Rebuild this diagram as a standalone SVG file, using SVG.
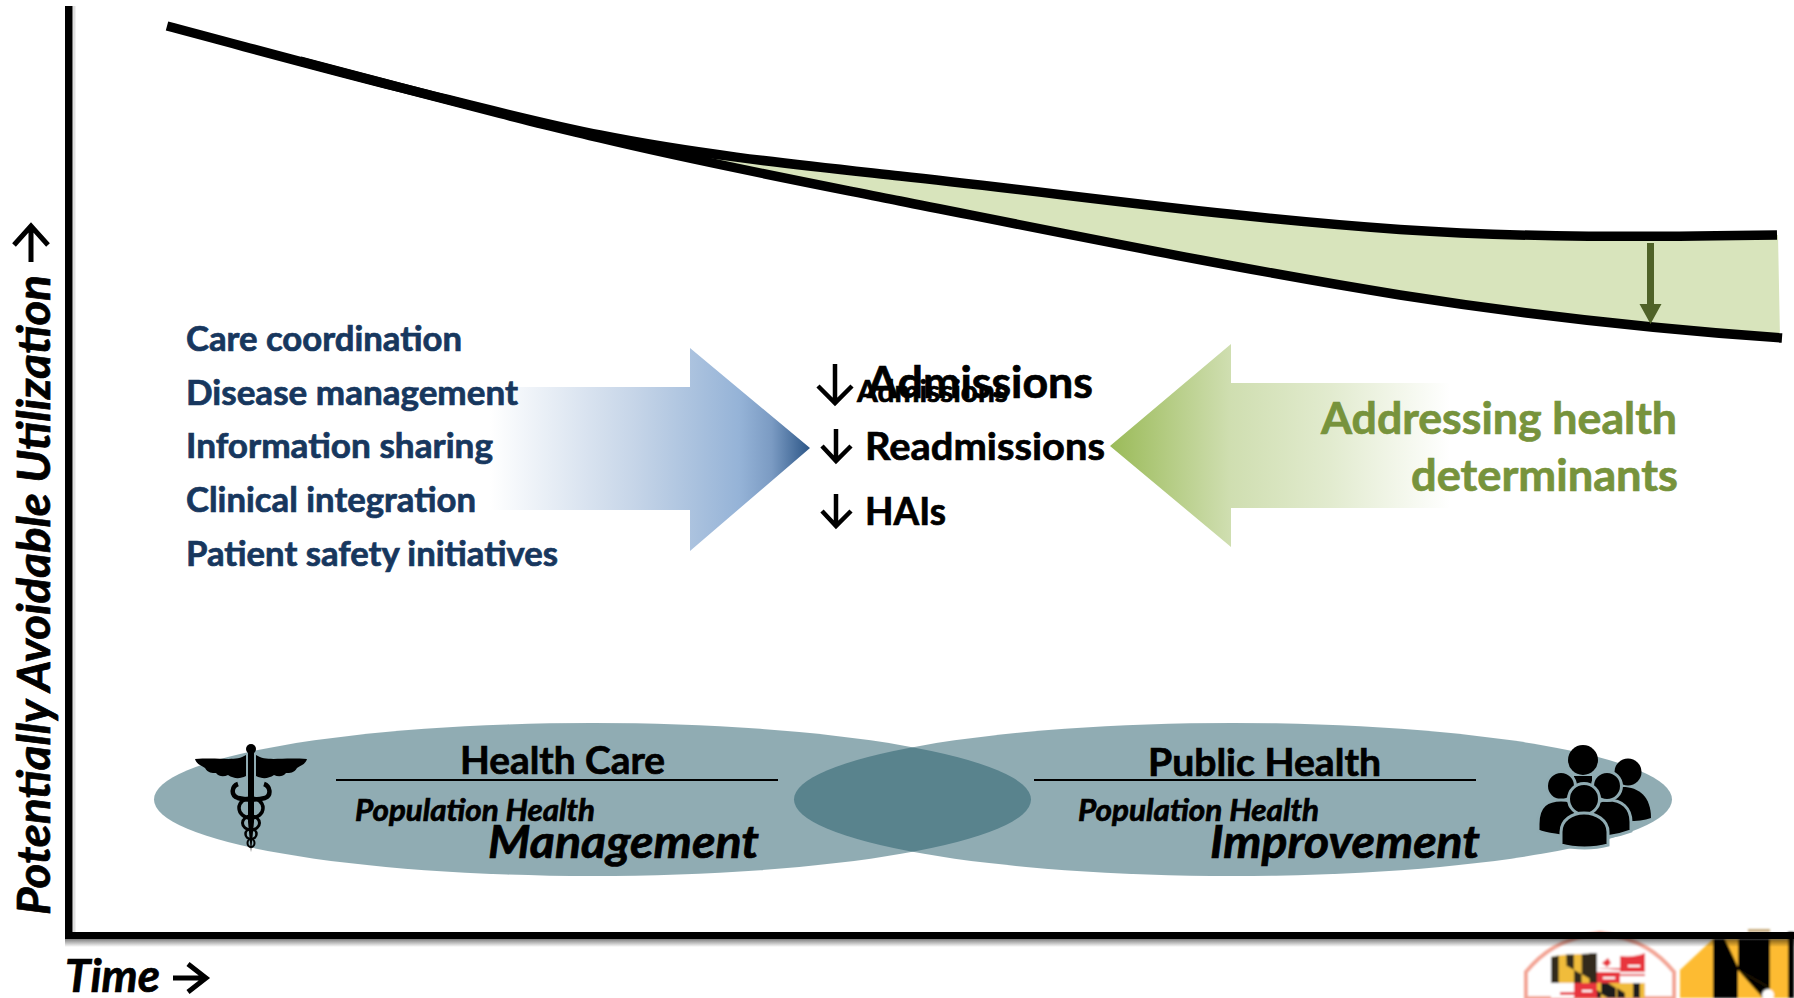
<svg xmlns="http://www.w3.org/2000/svg" width="1794" height="998" viewBox="0 0 1794 998">
<defs>
<linearGradient id="blueG" gradientUnits="userSpaceOnUse" x1="490" y1="0" x2="810" y2="0">
<stop offset="0" stop-color="#ffffff"/><stop offset="0.45" stop-color="#c6d5e8"/><stop offset="0.78" stop-color="#95b3d7"/><stop offset="0.88" stop-color="#7b9bc3"/><stop offset="1" stop-color="#2c5687"/>
</linearGradient>
<linearGradient id="greenG" gradientUnits="userSpaceOnUse" x1="1111" y1="0" x2="1450" y2="0">
<stop offset="0" stop-color="#9bbb59"/><stop offset="0.35" stop-color="#cfdeb0"/><stop offset="0.65" stop-color="#e2ebcf"/><stop offset="1" stop-color="#ffffff"/>
</linearGradient>
<linearGradient id="shadowH" x1="0" y1="0" x2="0" y2="1"><stop offset="0" stop-color="#000" stop-opacity=".5"/><stop offset="1" stop-color="#000" stop-opacity="0"/></linearGradient>
<filter id="soft" x="-5%" y="-5%" width="110%" height="110%"><feGaussianBlur stdDeviation="0.8"/></filter>
</defs>
<style>
.t{font-family:Lato,"Liberation Sans",sans-serif;font-weight:700;stroke-width:.7px;paint-order:stroke}
.navy{fill:#17375e;stroke:#17375e;font-size:33.5px}
.blk{fill:#000;stroke:#000;font-size:38.5px}
.grn{fill:#77933c;stroke:#77933c;font-size:44px}
.it{font-family:Lato,"Liberation Sans",sans-serif;font-weight:700;font-style:italic;fill:#000;stroke:#000;stroke-width:.7px}
.ell{fill:#215968;fill-opacity:.5}
.arr{fill:none;stroke:#000;stroke-width:4.5}
.curve{fill:none;stroke:#000;stroke-width:9.5}
.rule{stroke:#000;stroke-width:1.8}
</style>
<g id="wedge"><path d="M600,135 C700,155 800,165 900,176 C1067,194 1233,218 1400,229.500 C1526,238 1651,237 1778,235 L1780,338 C1655,329 1527,315 1400,295 C1233,268 1067,234 900,201 C800,181 700,162 600,138Z" fill="#d8e4bc"/></g>
<g id="logo-shield" filter="url(#soft)">
<path d="M1526,998V972C1540,955 1560,938 1600,933 1640,938 1660,955 1674,972V998Z" fill="#fff" stroke="#f3a595" stroke-width="4"/>
<g id="flag">
<path d="M1551,957C1565,953 1580,955 1597,953V983H1551Z" fill="#f0bc3a"/>
<path d="M1597,953C1612,958 1630,958 1645,953V983H1597Z" fill="#fff"/>
<rect x="1551" y="983" width="46" height="15" fill="#fff"/>
<rect x="1597" y="983" width="48" height="15" fill="#f0bc3a"/>
<path d="M1551,957L1558.700,955.500V961.300L1551,957ZM1558.700,961.300L1551,957V983H1558.700ZM1566.300,955V965.700L1574,970V954.500H1566.300ZM1574,970V983H1581.700V974.300L1574,970ZM1581.700,954V974.300L1589.300,978.700V953.500ZM1589.300,978.700V983H1597V953H1589.300Z" fill="#1c1c1c" fill-opacity=".9"/>
<path d="M1558.700,961.300H1566.300V965.700ZM1566.300,965.700V983H1574V970ZM1581.700,974.300V983H1589.300V978.700Z" fill="#f0bc3a"/>
<path d="M1601,983h7l8,5v10h-8l-7,-4zM1617,988l8,5v5h-8zM1633,983h7v15h-7zM1597,990l4,3v5h-4z" fill="#1c1c1c"/>
<path d="M1620,956C1630,957 1638,956 1645,953V972H1620ZM1597,972H1620V983H1597ZM1574,983H1597V998H1574Z" fill="#e8343c"/>
<path d="M1597,968h23v-10h3v12h-3zM1620,976h25v-2h-25zM1602,963l6,-5 3,5 -4,4zM1626,961h10v3h-10zM1560,992h14v3h-14zM1580,988h12v3h-12z" fill="#e8343c"/>
<path d="M1628,965h12v2h-12zM1603,977h12v2h-12zM1582,990h10v2h-10z" fill="#fff"/>
</g>
</g>
<g id="logo-m" filter="url(#soft)">
<path d="M1680,998V970L1713,939H1788V998Z" fill="#fdbb30"/>
<path d="M1713,939H1770V988L1738,970V998H1713Z" fill="#000"/>
<path d="M1725,939H1738V967Z" fill="#fdbb30"/>
<path d="M1738,973L1763,998H1738Z" fill="#fdbb30"/>
<path d="M1738,970L1770,988 1763,998Z" fill="#000"/>
<circle cx="1768" cy="995" r="6" fill="#fff"/>
<rect x="1788" y="932" width="6" height="66" fill="#000"/>
<rect x="1748" y="929" width="22" height="3" fill="#c8ad7f"/>
</g>
<g id="axes">
<rect x="72.500" y="6" width="3" height="926" fill="#000" fill-opacity=".12"/>
<rect x="65" y="939" width="1729" height="8" fill="url(#shadowH)"/>
<rect x="65" y="6" width="7.500" height="933" fill="#000"/>
<rect x="65" y="932" width="1729" height="7" fill="#000"/>
</g>
<g id="connectors">
<path class="curve" d="M167,26 C245,46.600 322,68 400,87.500 C467,104 533,121.700 600,135 C700,155 800,165 900,176 C1067,194 1233,218 1400,229.500 C1526,238 1651,237 1777,235"/>
<path class="curve" d="M300,61 C367,79 433,96 500,113.500 C533,122 567,130 600,138 C700,162 800,181 900,201 C1067,234 1233,268 1400,295 C1527,315 1655,329 1782,338"/>
<path d="M1647,243h7v61h7.500l-11,20 -11,-20h7.500z" fill="#4f6228"/>
</g>
<g id="arrow-care"><path d="M490,387H690V348L810,448 690,551V510H490Z" fill="url(#blueG)"/></g>
<g id="arrow-health"><path d="M1450,383H1231V344L1110,446 1231,547V508H1450Z" fill="url(#greenG)"/></g>
<g id="interventions">
<text class="t navy" x="186" y="351" textLength="276" lengthAdjust="spacingAndGlyphs">Care coordination</text>
<text class="t navy" x="186" y="405" textLength="332" lengthAdjust="spacingAndGlyphs">Disease management</text>
<text class="t navy" x="186" y="458" textLength="307" lengthAdjust="spacingAndGlyphs">Information sharing</text>
<text class="t navy" x="186" y="512" textLength="290" lengthAdjust="spacingAndGlyphs">Clinical integration</text>
<text class="t navy" x="186" y="566" textLength="372" lengthAdjust="spacingAndGlyphs">Patient safety initiatives</text>
</g>
<g id="outcomes">
<path class="arr" d="M835,364V403M818,386L835,403 852,386"/>
<path class="arr" d="M836,429V461M822,446L836,461 851,446"/>
<path class="arr" d="M836,494V526M822,511L836,526 851,511"/>
<text class="t" x="857" y="402" font-size="30" fill="#000" stroke="#000" textLength="151" lengthAdjust="spacingAndGlyphs">Admissions</text>
<text class="t blk" x="867" y="398" style="font-size:43px" textLength="226" lengthAdjust="spacingAndGlyphs">Admissions</text>
<text class="t blk" x="865" y="459.500" textLength="240" lengthAdjust="spacingAndGlyphs">Readmissions</text>
<text class="t blk" x="865" y="524.500" textLength="81" lengthAdjust="spacingAndGlyphs">HAIs</text>
</g>
<g id="determinants">
<text class="t grn" x="1321" y="433.500" textLength="356" lengthAdjust="spacingAndGlyphs">Addressing health</text>
<text class="t grn" x="1411" y="491" textLength="267" lengthAdjust="spacingAndGlyphs">determinants</text>
</g>
<g id="health-care">
<ellipse class="ell" cx="592.500" cy="799.500" rx="438.500" ry="76.500"/>
<text class="t blk" x="460" y="774" textLength="205" lengthAdjust="spacingAndGlyphs">Health Care</text>
<line class="rule" x1="336" y1="780" x2="778" y2="780"/>
<text class="it" x="355" y="820.500" font-size="30" textLength="240" lengthAdjust="spacingAndGlyphs">Population Health</text>
<text class="it" x="488" y="858" font-size="46" textLength="271" lengthAdjust="spacingAndGlyphs">Management</text>
</g>
<g id="public-health">
<ellipse class="ell" cx="1233" cy="799.500" rx="439" ry="76.500"/>
<text class="t blk" x="1148" y="775.500" textLength="233" lengthAdjust="spacingAndGlyphs">Public Health</text>
<line class="rule" x1="1034" y1="780" x2="1476" y2="780"/>
<text class="it" x="1078" y="820.500" font-size="30" textLength="241" lengthAdjust="spacingAndGlyphs">Population Health</text>
<text class="it" x="1210" y="858" font-size="46" textLength="270" lengthAdjust="spacingAndGlyphs">Improvement</text>
</g>
<g id="caduceus">
<circle cx="251" cy="749" r="5"/>
<path d="M248,752h6v70l-3,30 -3,-30z"/>
<path d="M246,755C235,762 222,757 195,759 197,765 201,765 205,768 208,773 212,773 216,773 219,777 224,777 228,775 234,779 240,779 246,776Z"/>
<path d="M256,755C267,762 280,757 307,759 305,765 301,765 297,768 294,773 290,773 286,773 283,777 278,777 274,775 268,779 262,779 256,776Z"/>
<g fill="none" stroke="#000">
<path stroke-width="4.500" d="M238,784C232,786 230,795 238,798 245,800 258,800 265,798 272,795 270,786 264,784"/>
<ellipse cx="251" cy="808" rx="12" ry="10" stroke-width="3.500"/>
<ellipse cx="251" cy="823" rx="8.500" ry="7" stroke-width="3"/>
<ellipse cx="251" cy="834" rx="5.500" ry="5" stroke-width="2.500"/>
<ellipse cx="251" cy="843" rx="3.500" ry="4" stroke-width="2"/>
</g>
</g>
<g id="people" stroke="#8fabb2" stroke-width="3">
<circle cx="1628" cy="772" r="13.500" stroke="none"/>
<path stroke="none" d="M1606,790C1630,782 1651,790 1651,818 1640,822 1625,822 1606,820Z"/>
<circle cx="1583" cy="760" r="15" stroke="none"/>
<rect x="1574" y="776" width="18" height="18" stroke="none"/>
<circle cx="1561" cy="786" r="14.500"/>
<path d="M1538,824C1538,805 1548,800 1561,800 1574,800 1584,806 1584,824V838C1568,837 1550,836 1538,831Z"/>
<path d="M1586,838V824C1586,806 1596,800 1608,800 1622,800 1631,808 1631,822V831C1618,836 1600,838 1586,838Z"/>
<circle cx="1607" cy="786" r="14.500"/>
<circle cx="1584" cy="799" r="15.500"/>
<path d="M1561,845V832C1561,820 1572,813 1584,813 1596,813 1608,820 1608,832V845C1594,849 1575,849 1561,845Z"/>
</g>
<g id="axis-labels">
<text class="it" font-size="45" transform="translate(50,915) rotate(-90)" textLength="640" lengthAdjust="spacingAndGlyphs">Potentially Avoidable Utilization</text>
<path d="M31,262V226M14,245L31,226 48,245" fill="none" stroke="#000" stroke-width="5"/>
<text class="it" x="65" y="992" font-size="45" textLength="95" lengthAdjust="spacingAndGlyphs">Time</text>
<path d="M173,978H205M188,964L206,978 188,992" fill="none" stroke="#000" stroke-width="5"/>
</g>
</svg>
